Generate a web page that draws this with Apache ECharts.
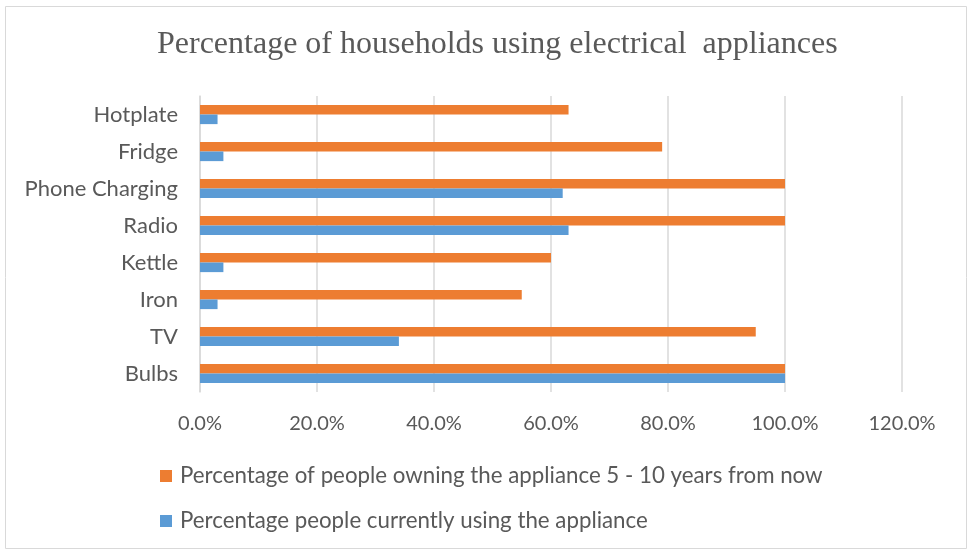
<!DOCTYPE html>
<html><head><meta charset="utf-8">
<script src="https://cdn.jsdelivr.net/npm/echarts@6/dist/echarts.min.js"></script>
<style>html,body{margin:0;padding:0;background:#fff}#c{width:970px;height:553px}</style>
</head><body><div id="c"></div>
<script>
const categories = ['Bulbs','TV','Iron','Kettle','Radio','Phone Charging','Fridge','Hotplate'];
const futureOwning = [100,95,55,60,100,100,79,63];
const currentlyUsing = [100,34,3,4,63,62,4,3];
const xTicks = [0,20,40,60,80,100,120];
const seriesNames = ['Percentage of people owning the appliance 5 - 10 years from now','Percentage people currently using the appliance'];

const chart = echarts.init(document.getElementById('c'));
chart.setOption({
  animation:false,
  title:{text:'Percentage of households using electrical  appliances',left:152,top:24,
    textStyle:{fontFamily:'Liberation Serif',fontSize:32,fontWeight:'normal',color:'#595959'}},
  graphic:[{type:'rect',shape:{x:5.5,y:6.5,width:961,height:542},style:{fill:'none',stroke:'#d9d9d9',lineWidth:1}}],
  grid:{left:200,right:68,top:96,bottom:161},
  legend:{orient:'vertical',left:155,top:460,itemGap:23,itemWidth:12,itemHeight:12,icon:'rect',
    data:seriesNames,textStyle:{fontFamily:'Lato',fontSize:22.3,color:'#595959',padding:[0,0,0,3]}},
  xAxis:{type:'value',min:xTicks[0],max:xTicks[xTicks.length-1],interval:20,
    axisLine:{show:false},axisTick:{show:false},
    splitLine:{lineStyle:{color:'#d9d9d9',width:1.5}},
    axisLabel:{formatter:v=>v.toFixed(1)+'%',fontFamily:'Lato',fontSize:20,color:'#595959',margin:22}},
  yAxis:{type:'category',data:categories,
    axisLine:{lineStyle:{color:'#d9d9d9',width:1.5}},axisTick:{show:false},
    axisLabel:{fontFamily:'Lato',fontSize:22,color:'#595959',margin:22}},
  series:[
    {name:seriesNames[0],type:'bar',data:futureOwning,itemStyle:{color:'#ED7D31'},barGap:'0%',barCategoryGap:'48%'},
    {name:seriesNames[1],type:'bar',data:currentlyUsing,itemStyle:{color:'#5B9BD5'},barGap:'0%',barCategoryGap:'48%'}
  ]
});
</script></body></html>
